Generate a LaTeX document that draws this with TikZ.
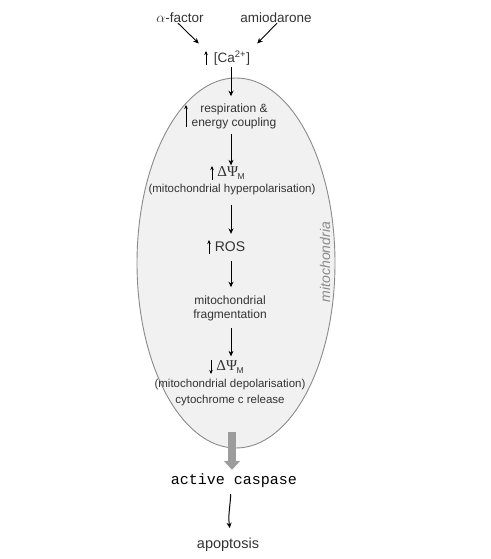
\documentclass[tikz,border=0pt]{standalone}
\usepackage{fontspec}
\setmainfont{Liberation Sans}
\newfontfamily\monofam{Liberation Mono}
\newfontfamily\serfam{Liberation Serif}
\usetikzlibrary{shapes.geometric,arrows.meta}
\definecolor{txt}{HTML}{333333}
\definecolor{mfill}{HTML}{F1F1F1}
\definecolor{medge}{HTML}{8A8A8A}
\newcommand{\dpsiM}{{\serfam\fontsize{15}{16}\selectfont ΔΨ}\kern-0.5pt\raisebox{-3pt}{\fontsize{8.5}{9}\selectfont M}}
\begin{document}
\begin{tikzpicture}[x=1pt,y=-1pt,
  lbl/.style={inner sep=1pt,text=txt,font=\fontsize{12}{14}\selectfont,align=center},
  sml/.style={inner sep=1pt,text=txt,font=\fontsize{11.5}{16}\selectfont,align=center},
  top/.style={inner sep=1pt,text=txt,font=\fontsize{13.5}{15}\selectfont},
  big/.style={inner sep=1pt,text=txt},
  arr/.style={-{Stealth[length=5.5pt,width=5pt]},line width=0.9pt,black},
  upa/.style={-{Stealth[length=4pt,width=3.5pt]},line width=0.7pt,black}]
\useasboundingbox (0,0) rectangle (490,559);
\coordinate (ax) at (231,0);
\node[ellipse,draw=medge,fill=mfill,line width=0.9pt,minimum width=198,minimum height=370,inner sep=0pt] (mito) at (236,263) {};
\node[inner sep=0pt,text=medge,rotate=90,font=\itshape\fontsize{14}{15}\selectfont] (mlab) at (325,262) {mitochondria};

\node[top] (af) at (180,18) {$\alpha$-factor};
\node[top] (am) at (276,18) {amiodarone};
\node[top] (ca) at (232,58) {[Ca\textsuperscript{2+}]};
\coordinate (caup) at (206,58);
\draw[upa] ([yshift=-7pt]caup) -- ([yshift=7pt]caup);

\draw[arr] ([xshift=-2pt,yshift=1pt]af.south) -- ([xshift=-14pt,yshift=6pt]ca.north west);
\draw[arr] ([xshift=1pt,yshift=1pt]am.south) -- ([xshift=6pt,yshift=6pt]ca.north east);

\node[lbl] (resp) at (234,116) {respiration \&\\energy coupling};
\coordinate (respup) at (186,116);
\draw[upa] ([yshift=-11pt]respup) -- ([yshift=11pt]respup);
\draw[arr,shorten >=6pt] (ca.south -| ax) -- (resp.north -| ax);

\node[big] (dpsi1) at (231,173) {\dpsiM};
\coordinate (d1up) at (212,173);
\draw[upa] ([yshift=-7pt]d1up) -- ([yshift=7pt]d1up);
\node[sml] (hyp) at (232,190) {(mitochondrial hyperpolarisation)};
\draw[arr,shorten <=4pt] (resp.south -| ax) -- (dpsi1.north -| ax);

\node[big,font=\fontsize{14}{15}\selectfont] (ros) at (230,247) {ROS};
\coordinate (rosup) at (209,247);
\draw[upa] ([yshift=-7pt]rosup) -- ([yshift=7pt]rosup);
\draw[arr,shorten <=8pt,shorten >=7pt] (hyp.south -| ax) -- (ros.north -| ax);

\node[lbl] (frag) at (230,308) {mitochondrial\\fragmentation};
\draw[arr,shorten <=8pt,shorten >=7pt] (ros.south -| ax) -- (frag.north -| ax);

\node[big] (dpsi2) at (230,367) {\dpsiM};
\coordinate (d2dn) at (211,367);
\draw[upa] ([yshift=7pt]d2dn) -- ([yshift=-7pt]d2dn);
\node[sml] (dep) at (230,393) {(mitochondrial depolarisation)\\cytochrome c release};
\draw[arr,shorten <=6pt,shorten >=3pt] (frag.south -| ax) -- (dpsi2.north -| ax);

\node[inner sep=1pt,text=black,font=\monofam\fontsize{15}{16}\selectfont] (casp) at (234,481) {active caspase};
\coordinate (gtop) at (232,432);
\draw[line width=8pt,draw=medge!85,-{Triangle[length=9pt,width=16pt]},shorten >=3pt] (gtop) -- (casp.north -| gtop);

\node[inner sep=1pt,text=txt,font=\fontsize{14.5}{16}\selectfont] (apo) at (228,545) {apoptosis};
\draw[arr,line width=1pt,shorten <=5pt,shorten >=9pt] (casp.south -| ax) .. controls (230,508) and (228,515) .. (apo.north -| ax);
\end{tikzpicture}
\end{document}
